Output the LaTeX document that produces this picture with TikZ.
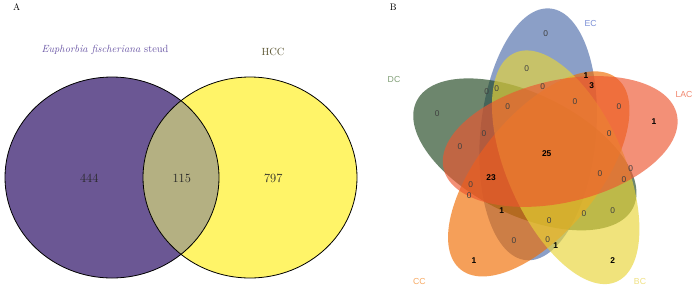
\documentclass[tikz,border=0pt]{standalone}
\usepackage{fontspec}
\newfontfamily\sansf{Liberation Sans}
\definecolor{purpA}{RGB}{107,87,148}
\definecolor{yelA}{RGB}{255,244,104}
\definecolor{midA}{RGB}{180,176,130}
\definecolor{purpT}{RGB}{105,85,165}
\definecolor{oliveT}{RGB}{95,90,55}
\definecolor{ecB}{RGB}{78,109,170}
\definecolor{dcB}{RGB}{32,70,32}
\definecolor{ccB}{RGB}{240,109,1}
\definecolor{bcB}{RGB}{232,213,55}
\definecolor{lacB}{RGB}{237,86,47}
\definecolor{ecT}{RGB}{125,145,215}
\definecolor{dcT}{RGB}{130,160,120}
\definecolor{ccT}{RGB}{248,170,100}
\definecolor{bcT}{RGB}{240,225,130}
\definecolor{lacT}{RGB}{242,135,110}
\begin{document}
\begin{tikzpicture}[x=1pt,y=-1pt,
  panel/.style={font=\fontsize{9.5}{11}\selectfont, inner sep=0},
  numA/.style={font=\fontsize{12.5}{14}\selectfont, text=black!85, inner sep=0},
  ttlA/.style={font=\fontsize{10.4}{12}\selectfont, inner sep=0},
  numz/.style={font=\sansf\fontsize{8.4}{9}\selectfont, text=black!75, inner sep=0},
  numnz/.style={font=\sansf\bfseries\fontsize{8.4}{9}\selectfont, text=black, inner sep=0},
  catB/.style={font=\sansf\fontsize{8.7}{10}\selectfont, inner sep=0},
  petal/.style={fill opacity=0.65}]
\useasboundingbox (0,0) rectangle (700,298);
\fill[white] (0,0) rectangle (700,298);

% ---------- Panel A ----------
\node[panel] (labA) at (16.7,7) {A};
\fill[purpA] (112,177.5) ellipse [x radius=107pt, y radius=100.5pt];
\fill[yelA] (250,177.5) ellipse [x radius=107pt, y radius=100.5pt];
\begin{scope}
  \clip (112,177.5) ellipse [x radius=107pt, y radius=100.5pt];
  \fill[midA] (250,177.5) ellipse [x radius=107pt, y radius=100.5pt];
\end{scope}
\draw[black, line width=0.8pt] (112,177.5) ellipse [x radius=107pt, y radius=100.5pt];
\draw[black, line width=0.8pt] (250,177.5) ellipse [x radius=107pt, y radius=100.5pt];
\node[ttlA, text=purpT] (tEu) at (105,50) {\textit{Euphorbia fischeriana} steud};
\node[ttlA, text=oliveT] (tHCC) at (273,51.7) {HCC};
\node[numA] (n444) at (89.3,178.3) {444};
\node[numA] (n115) at (181.7,178.3) {115};
\node[numA] (n797) at (273.3,178.3) {797};

% ---------- Panel B ----------
\node[panel] (labB) at (393.3,7) {B};
\begin{scope}[shift={(544.5,154)}, xscale=0.963, yscale=1.02]
  \fill[ecB, petal, shift={(-6.64,-19.29)}, rotate=84] (0,0) ellipse [x radius=124pt, y radius=60pt];
  \fill[dcB, petal, shift={(-20.40,0.36)}, rotate=156] (0,0) ellipse [x radius=124pt, y radius=60pt];
  \fill[ccB, petal, shift={(-5.96,19.51)}, rotate=228] (0,0) ellipse [x radius=124pt, y radius=60pt];
  \fill[bcB, petal, shift={(22,13)}, rotate=296] (0,0) ellipse [x radius=124pt, y radius=60pt];
  \fill[lacB, petal, shift={(16.29,-12.28)}, rotate=12] (0,0) ellipse [x radius=124pt, y radius=60pt];
\end{scope}

\node[catB, text=ecT] (cEC) at (590.7,24) {EC};
\node[catB, text=dcT] (cDC) at (394,80) {DC};
\node[catB, text=lacT] (cLAC) at (684,94.3) {LAC};
\node[catB, text=ccT] (cCC) at (419.3,281.7) {CC};
\node[catB, text=bcT] (cBC) at (640,281.7) {BC};

\node[numz] (r1) at (545.7,33.3) {0};
\node[numz] (r2) at (526.7,68.3) {0};
\node[numnz] (r3) at (586,76) {1};
\node[numnz] (r4) at (591.7,86) {3};
\node[numz] (r5) at (486.7,91.7) {0};
\node[numz] (r6) at (496.7,88.3) {0};
\node[numz] (r7) at (542.7,86.7) {0};
\node[numz] (r8) at (507.7,106.7) {0};
\node[numz] (r9) at (575,101.7) {0};
\node[numz] (r10) at (619,106.7) {0};
\node[numnz] (r11) at (654,121.7) {1};
\node[numz] (r12) at (437.3,113.3) {0};
\node[numz] (r13) at (484,133.3) {0};
\node[numz] (r14) at (609.3,133.3) {0};
\node[numz] (r15) at (460,146.5) {0};
\node[numnz] (r16) at (546.7,154) {25};
\node[numnz] (r17) at (491,177.3) {23};
\node[numz] (r18) at (470.7,184.3) {0};
\node[numz] (r19) at (469.3,196) {0};
\node[numz] (r20) at (600,174) {0};
\node[numz] (r21) at (630.7,168.3) {0};
\node[numz] (r22) at (624,179.3) {0};
\node[numnz] (r23) at (501.7,210.7) {1};
\node[numz] (r24) at (584,214) {0};
\node[numz] (r25) at (612.7,210.7) {0};
\node[numz] (r26) at (549.3,220.7) {0};
\node[numz] (r27) at (514,240.7) {0};
\node[numz] (r28) at (547.7,239.3) {0};
\node[numnz] (r29) at (555.7,246) {1};
\node[numnz] (r30) at (474,260.7) {1};
\node[numnz] (r31) at (612.7,261) {2};
\end{tikzpicture}
\end{document}
